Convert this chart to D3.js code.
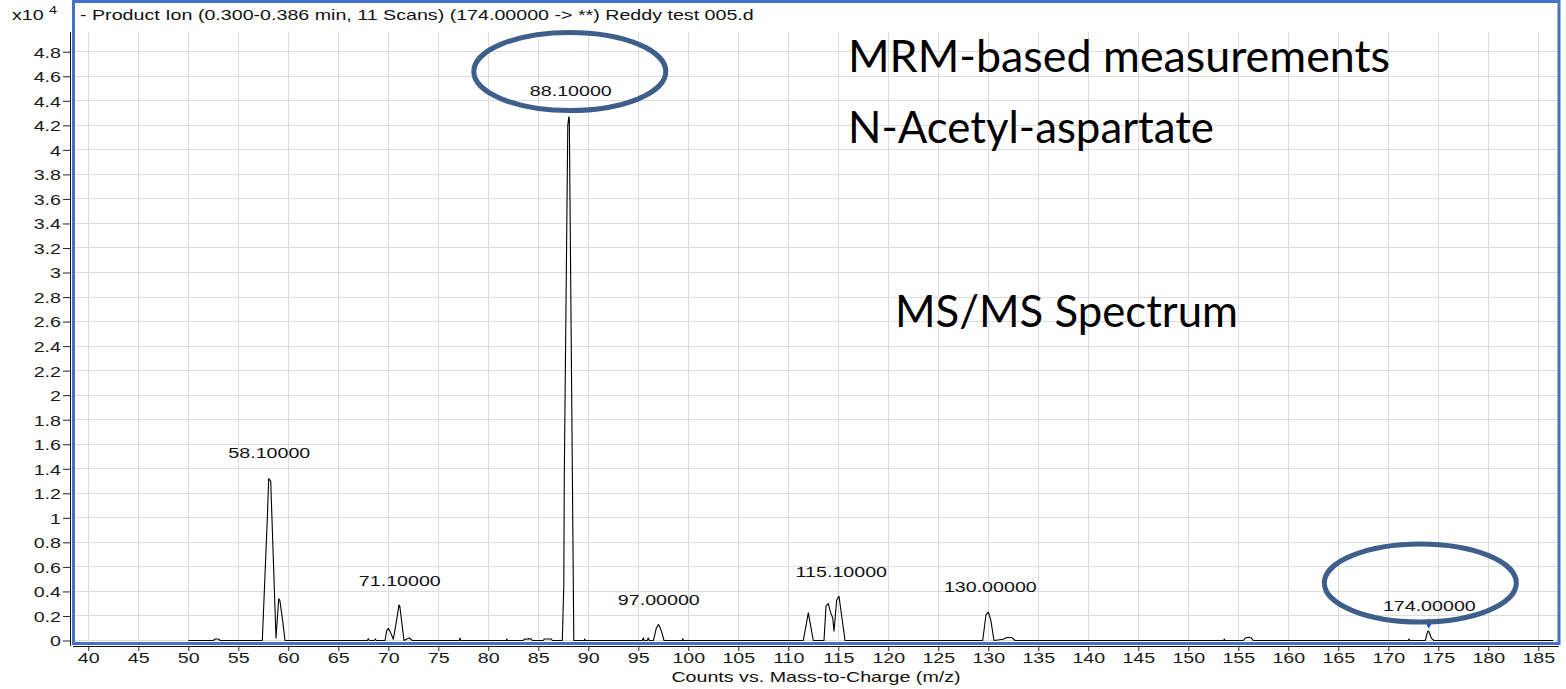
<!DOCTYPE html>
<html><head><meta charset="utf-8">
<script src="https://cdn.jsdelivr.net/npm/d3@7/dist/d3.min.js"></script>
<style>
html,body{margin:0;padding:0;background:#fff;}
svg{display:block;}
</style></head>
<body>
<svg id="chart" width="1566" height="689"></svg>
<script>
// ---------- data (intensity in units of x10^4 counts) ----------
const mzValues = [50.0,52.5,52.7,53.0,53.2,57.4,57.9,58.04,58.24,58.77,59.04,59.15,59.44,59.67,
  67.9,68.0,68.1,68.6,68.7,68.8,69.67,69.84,70.0,70.2,70.5,70.84,71.07,71.15,71.57,71.9,72.1,72.4,
  77.1,77.17,77.25,81.8,81.85,81.9,83.5,83.6,83.8,84.0,84.3,84.4,85.5,85.6,86.3,86.4,
  87.4,87.55,87.6,87.95,88.05,88.1,88.55,89.6,89.65,89.7,
  95.4,95.5,95.6,95.9,96.0,96.1,96.5,96.6,96.8,97.0,97.1,97.3,97.57,99.4,99.45,99.5,
  111.5,112.0,112.5,113.57,113.77,114.0,114.24,114.44,114.57,114.84,115.07,115.34,115.67,
  129.44,129.77,130.0,130.24,130.57,131.5,131.84,132.34,132.67,
  153.55,153.6,153.65,155.5,155.7,156.04,156.3,156.5,172.0,172.07,172.15,
  173.7,173.94,174.05,174.3,174.57,186.5];
const intensityValues = [0,0,0.012,0.012,0,0,0.99,1.32,1.30,0.02,0.34,0.33,0.16,0,
  0,0.015,0,0,0.012,0,0,0.08,0.10,0.07,0.01,0.17,0.29,0.28,0,0.015,0.02,0,
  0,0.02,0,0,0.012,0,0,0.012,0.01,0.015,0.012,0,0,0.012,0.012,0,
  0,0.45,1.35,4.2,4.27,4.26,0,0,0.012,0,
  0,0.02,0,0,0.02,0,0,0.03,0.10,0.13,0.12,0.08,0,0,0.015,0,
  0,0.225,0,0,0.28,0.30,0.225,0.185,0.076,0.33,0.36,0.2,0,
  0,0.21,0.23,0.17,0,0.01,0.025,0.025,0,
  0,0.012,0,0,0.02,0.027,0.02,0,0,0.012,0,
  0,0.076,0.075,0.02,0,0];

const peakLabelMz = [58.1, 71.1, 88.1, 97.0, 115.1, 130.0, 174.0];
const peakLabelText = ["58.10000","71.10000","88.10000","97.00000","115.10000","130.00000","174.00000"];
const peakLabelPos = [1.49, 0.445, 4.44, 0.29, 0.52, 0.395, 0.24];
const peakLabelX = [58.1, 71.15, 88.25, 97.05, 115.3, 130.2, 174.1];

const precursorMz = [174.05];
const precursorVal = [0.14];

const xTicks = d3.range(40, 186, 5);
const xTickLabels = xTicks.map(String);
const yTicks = [0,0.2,0.4,0.6,0.8,1,1.2,1.4,1.6,1.8,2,2.2,2.4,2.6,2.8,3,3.2,3.4,3.6,3.8,4,4.2,4.4,4.6,4.8];
const yTickLabels = ["0","0.2","0.4","0.6","0.8","1","1.2","1.4","1.6","1.8","2","2.2","2.4","2.6","2.8","3","3.2","3.4","3.6","3.8","4","4.2","4.4","4.6","4.8"];

const titleText = "- Product Ion (0.300-0.386 min, 11 Scans) (174.00000 -> **) Reddy test 005.d";
const xAxisTitle = "Counts vs. Mass-to-Charge (m/z)";
const notes = ["MRM-based measurements", "N-Acetyl-aspartate", "MS/MS Spectrum"];
const circledPeaks = [88.1, 174.0];

// ---------- layout ----------
const svg = d3.select("#chart");
const FONT = "'Liberation Sans', Arial, sans-serif";
const SX = 1.31;
const x = d3.scaleLinear().domain([38.5, 187.1]).range([73.3, 1559.3]);
const y = d3.scaleLinear().domain([0, 4.965]).range([640.5, 31.5]);
const plotTop = 32, plotBottom = 641, plotLeft = 73, plotRight = 1559;

// gridlines
const grid = svg.append("g").attr("stroke", "#dcdcdc").attr("stroke-width", 1).attr("shape-rendering","crispEdges");
grid.selectAll("line.v").data(xTicks).join("line").attr("class","v")
  .attr("x1", d => x(d)).attr("x2", d => x(d)).attr("y1", plotTop).attr("y2", plotBottom);
grid.selectAll("line.h").data(yTicks).join("line").attr("class","h")
  .attr("x1", plotLeft).attr("x2", plotRight).attr("y1", d => y(d)).attr("y2", d => y(d));

// axes
const xAxis = svg.append("g").attr("transform", "translate(0,646)")
  .call(d3.axisBottom(x).tickValues(xTicks).tickFormat((d,i) => xTickLabels[i]).tickSize(5).tickSizeOuter(0));
xAxis.select(".domain").remove();
xAxis.append("line").attr("x1", 73).attr("x2", 1559).attr("stroke", "#111").attr("shape-rendering","crispEdges");
xAxis.selectAll(".tick line").attr("stroke", "#222");
xAxis.selectAll(".tick text").attr("y", 17).attr("dy", 0).attr("fill", "#1a1a1a")
  .attr("font-family", FONT).attr("font-size", 15).attr("transform", `scale(${SX},1)`);

const yAxis = svg.append("g").attr("transform", "translate(70,0)")
  .call(d3.axisLeft(y).tickValues(yTicks).tickFormat((d,i) => yTickLabels[i]).tickSize(7).tickSizeOuter(0));
yAxis.select(".domain").remove();
yAxis.append("line").attr("y1", 32).attr("y2", 646).attr("stroke", "#111").attr("shape-rendering","crispEdges");
yAxis.selectAll(".tick line").attr("stroke", "#222");
yAxis.selectAll(".tick text").attr("x", -9 / SX).attr("dy", "0.36em").attr("fill", "#1a1a1a")
  .attr("font-family", FONT).attr("font-size", 15).attr("transform", `scale(${SX},1)`);

// blue frame
svg.append("rect").attr("x", 73.5).attr("y", 1.5).attr("width", 1485.5).attr("height", 642)
  .attr("fill", "none").attr("stroke", "#4472c4").attr("stroke-width", 3);

// spectrum
const pts = mzValues.map((m, i) => [m, intensityValues[i]]);
svg.append("path").datum(pts)
  .attr("d", d3.line().x(d => x(d[0])).y(d => y(d[1])))
  .attr("fill", "none").attr("stroke", "#000").attr("stroke-width", 1.1).attr("stroke-linejoin","round");

// precursor marker
svg.selectAll("path.marker").data(precursorMz).join("path").attr("class","marker")
  .attr("d", d3.symbol().type(d3.symbolDiamond).size(30))
  .attr("transform", (d,i) => `translate(${x(d)},${y(precursorVal[i])})`)
  .attr("fill", "#1f3fff");

// peak labels
svg.selectAll("text.peak").data(peakLabelText).join("text").attr("class","peak")
  .attr("transform", (d,i) => `translate(${x(peakLabelX[i])},${y(peakLabelPos[i])}) scale(${SX},1)`)
  .attr("text-anchor", "middle").attr("font-family", FONT).attr("font-size", 15).attr("fill", "#111")
  .text(d => d);

// title & exponent
svg.append("text").attr("transform", `translate(80,20) scale(${SX},1)`)
  .attr("font-family", FONT).attr("font-size", 15).attr("fill", "#111").text(titleText);
const ex = svg.append("text").attr("transform", `translate(12,20) scale(${SX},1)`)
  .attr("font-family", FONT).attr("font-size", 15).attr("fill", "#111");
ex.append("tspan").text("x10");
ex.append("tspan").attr("font-size", 11).attr("dx", 4).attr("dy", -6).text("4");

// axis title
svg.append("text").attr("transform", `translate(816,682) scale(${SX},1)`)
  .attr("text-anchor", "middle").attr("font-family", FONT).attr("font-size", 15).attr("fill", "#111")
  .text(xAxisTitle);

// big annotations
const noteX = [848, 848, 895], noteY = [72, 143, 327], noteW = [542, 366, 343];
svg.selectAll("text.note").data(notes).join("text").attr("class","note")
  .attr("x", (d,i) => noteX[i]).attr("y", (d,i) => noteY[i])
  .attr("textLength", (d,i) => noteW[i]).attr("lengthAdjust", "spacingAndGlyphs")
  .attr("font-family", "Lato, 'Open Sans', sans-serif").attr("font-size", 44).attr("fill", "#000")
  .text(d => d);

// ellipses around highlighted peaks
const ellCy = [71.5, 583];
svg.selectAll("ellipse.hl").data(circledPeaks).join("ellipse").attr("class","hl")
  .attr("cx", (d,i) => x(d) + (i === 0 ? 0.5 : -8)).attr("cy", (d,i) => ellCy[i])
  .attr("rx", 96).attr("ry", 39)
  .attr("fill", "none").attr("stroke", "#3e5f8c").attr("stroke-width", 5);
</script>
</body></html>
